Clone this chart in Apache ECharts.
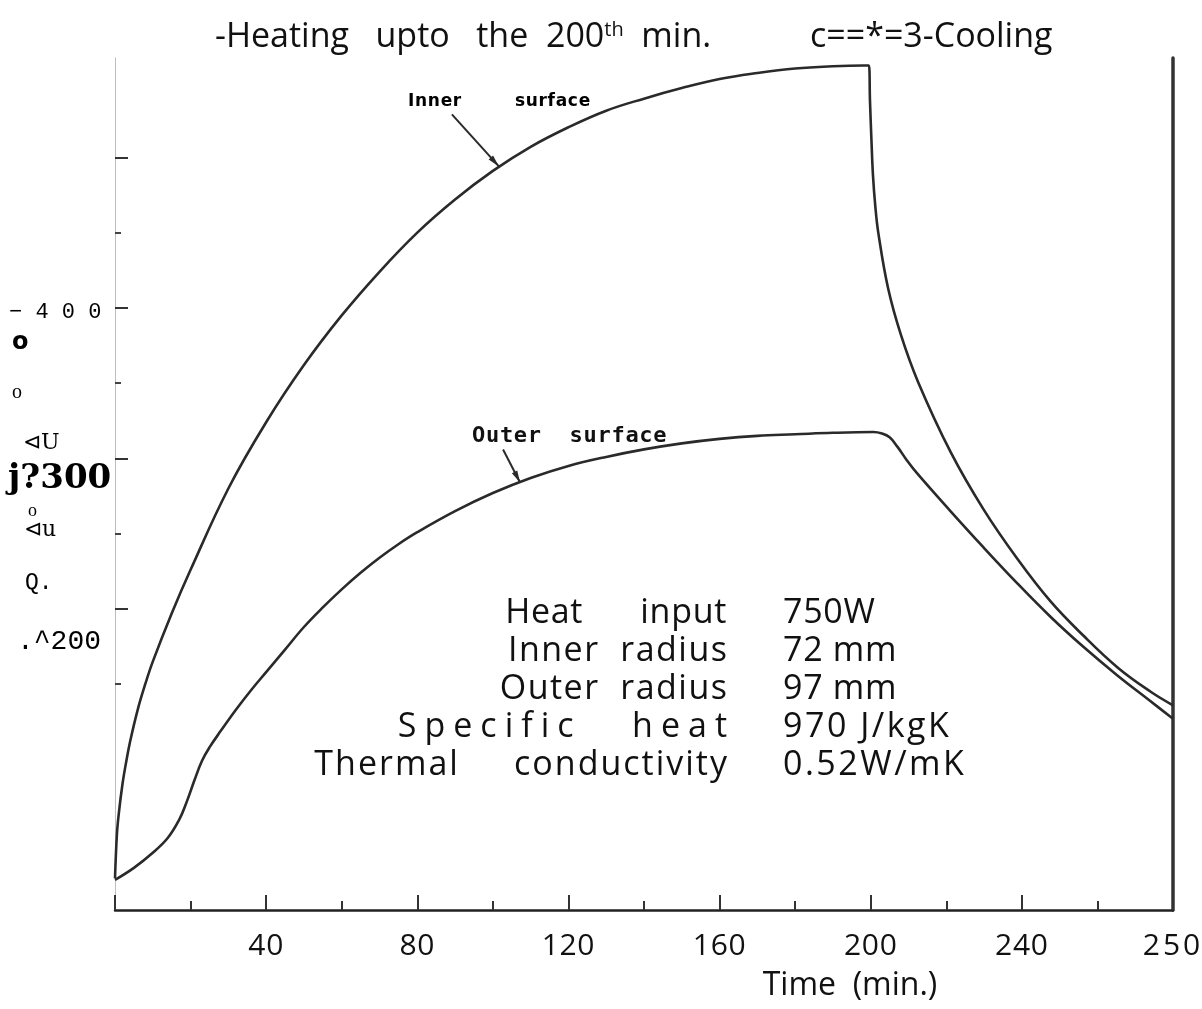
<!DOCTYPE html>
<html>
<head>
<meta charset="utf-8">
<script src="https://cdn.jsdelivr.net/npm/echarts@6/dist/echarts.min.js"></script>
<style>
  html, body { margin: 0; padding: 0; background: #fff; }
  #chart { width: 1202px; height: 1009px; }
</style>
</head>
<body>
<div id="chart"></div>
<script>
// Temperature (deg C) against time (min): heating up to 200 min, then cooling.
const innerSurface = [
  [0, 21], [0.5, 50], [1, 64], [2, 84], [3, 99], [4, 112], [6, 133], [8, 150],
  [10, 165], [15, 197], [20, 226], [30, 280], [40, 324], [50, 362], [60, 395],
  [70, 424], [80, 450], [90, 472], [100, 491], [110, 507], [120, 520], [130, 531],
  [140, 539], [150, 546], [160, 552], [170, 556], [180, 559], [190, 560.5], [198, 561],
  [199.5, 561], [199.8, 538], [200.2, 511], [200.6, 488], [201.2, 468], [202, 450],
  [204.6, 413], [208, 382], [212.5, 351], [221.2, 304], [229.9, 266], [238.9, 233],
  [247.6, 205], [256.4, 182], [265.4, 161], [274.1, 145], [280, 136]
];
const outerSurface = [
  [0, 20], [5, 28], [10, 38], [14, 48], [17, 60], [19, 72], [21, 86], [23, 99],
  [25, 108], [28, 119], [32, 133], [36, 146], [40, 158], [45, 173], [50, 188],
  [55, 201], [60, 213], [65, 224], [70, 234], [75, 243], [80, 251], [90, 265],
  [100, 277], [110, 287], [120, 295], [130, 301], [140, 306], [150, 310], [160, 313],
  [170, 315], [180, 316], [190, 317], [200.7, 317.5], [203, 316.5], [205, 314],
  [207, 308], [209.5, 299], [212.3, 290], [221.1, 265], [229.8, 241], [238.8, 217],
  [247.5, 195], [256.2, 175], [265.2, 156], [273.9, 139], [280, 127]
];

// Axis ticks and labels
const xTickValues = [40, 80, 120, 160, 200, 240, 280];
const xTickLabels = ['40', '80', '120', '160', '200', '240', '250'];
const yMajorTicks = [200, 300, 400, 500];
const yMinorTicks = [150, 250, 350, 450];
const yLabelValues = [400, 300, 200];
const yLabelTexts = ['\u2212 4 0 0', 'j?300', '.^200'];
const yAxisGlyphs = ['o', 'o', '\u22B2U', 'o', '\u22B2u', 'Q.'];

// Annotation and table texts
const titleHeating = '-Heating   upto   the  200{sup|th}  min.';
const titleCooling = 'c==*=3-Cooling';
const xAxisTitle = 'Time  (min.)';
const curveNames = ['Inner        surface', 'Outer  surface'];
const paramNames = ['Heat      input', 'Inner  radius', 'Outer  radius', 'Specific   heat', 'Thermal     conductivity'];
const paramValues = ['750W', '72 mm', '97 mm', '970 J/kgK', '0.52W/mK'];

// extra tracking (px) for some of the drawn strings
const tracking = {
  'Inner  radius': 1.5, 'Outer  radius': 1.5, 'Specific   heat': 8,
  'Thermal     conductivity': 2, '970 J/kgK': 2.5, '0.52W/mK': 2.5,
  'Inner        surface': 0.7, '250': 3
};
(function () {
  const proto = CanvasRenderingContext2D.prototype;
  const fill = proto.fillText;
  proto.fillText = function (text) {
    const ls = tracking[text];
    if (ls && 'letterSpacing' in this) {
      const prev = this.letterSpacing;
      this.letterSpacing = ls + 'px';
      const r = fill.apply(this, arguments);
      this.letterSpacing = prev;
      return r;
    }
    return fill.apply(this, arguments);
  };
})();

const INK = '#2a2a2a';
const SANS = '"Open Sans", "Noto Sans", sans-serif';

const chart = echarts.init(document.getElementById('chart'), null, { renderer: 'canvas' });

chart.setOption({
  animation: false,
  backgroundColor: '#ffffff',
  grid: { left: 115, right: 29, top: 58, bottom: 99, containLabel: false },
  xAxis: {
    type: 'value', min: 0, max: 280, interval: 40,
    axisLine: { show: true, onZero: false, lineStyle: { color: '#222', width: 2.5 } },
    axisTick: { show: true, inside: true, length: 15, lineStyle: { color: '#333', width: 2 } },
    minorTick: { show: true, splitNumber: 2, length: 9, lineStyle: { color: '#333', width: 2 } },
    splitLine: { show: false },
    minorSplitLine: { show: false },
    axisLabel: {
      customValues: xTickValues,
      formatter: v => xTickLabels[xTickValues.indexOf(v)],
      margin: 21, fontFamily: SANS, fontSize: 30, color: '#111'
    }
  },
  yAxis: [
    {
      type: 'value', min: 0, max: 566, position: 'left',
      axisLine: { show: true, onZero: false, lineStyle: { color: '#bdbdbd', width: 1 } },
      axisTick: { show: true, inside: true, length: 13, customValues: yMajorTicks, lineStyle: { color: '#333', width: 2 } },
      axisLabel: { show: false }, splitLine: { show: false }
    },
    {
      type: 'value', min: 0, max: 566, position: 'left',
      axisLine: { show: false },
      axisTick: { show: true, inside: true, length: 6, customValues: yMinorTicks, lineStyle: { color: '#444', width: 2 } },
      axisLabel: { show: false }, splitLine: { show: false }
    },
    {
      type: 'value', min: 0, max: 566, position: 'right',
      axisLine: { show: true, onZero: false, lineStyle: { color: '#333', width: 3.5 } },
      axisTick: { show: false }, axisLabel: { show: false }, splitLine: { show: false }
    }
  ],
  series: [
    {
      type: 'line', name: 'Inner surface', data: innerSurface, yAxisIndex: 0,
      smooth: 0.4, symbol: 'none', lineStyle: { color: INK, width: 2.6 }, z: 3
    },
    {
      type: 'line', name: 'Outer surface', data: outerSurface, yAxisIndex: 0,
      smooth: 0.4, symbol: 'none', lineStyle: { color: INK, width: 2.6 }, z: 3
    }
  ]
});

const toPx = (t, v) => chart.convertToPixel({ seriesIndex: 0 }, [t, v]);

function txt(x, y, text, font, extra) {
  return {
    type: 'text', x: x, y: y, silent: true,
    style: Object.assign({ text: text, font: font, fill: '#111', textAlign: 'left', textVerticalAlign: 'middle' }, extra || {})
  };
}

// pointer line from a curve label to the curve, with a slim arrowhead at the curve
function pointer(start, end) {
  const dx = end[0] - start[0], dy = end[1] - start[1];
  const len = Math.sqrt(dx * dx + dy * dy);
  const ux = dx / len, uy = dy / len;
  const bx = end[0] - ux * 12, by = end[1] - uy * 12;
  return [
    { type: 'line', silent: true, shape: { x1: start[0], y1: start[1], x2: end[0], y2: end[1] },
      style: { stroke: INK, lineWidth: 2 } },
    { type: 'polygon', silent: true,
      shape: { points: [[end[0], end[1]], [bx - uy * 3, by + ux * 3], [bx + uy * 3, by - ux * 3]] },
      style: { fill: INK } }
  ];
}

const graphics = [];

// title line
graphics.push(txt(215, 37, titleHeating, '34px ' + SANS, {
  rich: { sup: { font: '20px ' + SANS, verticalAlign: 'top', padding: [0, 0, 14, 0] } }
}));
graphics.push(txt(810, 37, titleCooling, '34px ' + SANS));

// x-axis title
graphics.push(txt(850, 986, xAxisTitle, '32px ' + SANS, { textAlign: 'center' }));

// y-axis labels tied to their axis values
const yLabelFonts = ['22px "Liberation Mono", monospace', 'bold 34px "DejaVu Serif", serif', '28px "Liberation Mono", monospace'];
const yLabelOffsets = [4, 21, 33];
const yLabelLefts = [9, 8, 17];
yLabelValues.forEach((v, i) => {
  const p = toPx(0, v);
  graphics.push(txt(yLabelLefts[i], p[1] + yLabelOffsets[i], yLabelTexts[i], yLabelFonts[i], { fill: '#000' }));
});

// stray glyphs of the rotated axis caption
const glyphPos = [[12, 343], [12, 393], [23, 443], [28, 511], [24, 530], [25, 583]];
const glyphFonts = ['bold 24px "DejaVu Sans", sans-serif', '20px "Liberation Serif", serif', '22px "DejaVu Serif", serif',
  '18px "Liberation Serif", serif', '22px "DejaVu Serif", serif', '23px "Liberation Mono", monospace'];
yAxisGlyphs.forEach((g, i) => {
  graphics.push(txt(glyphPos[i][0], glyphPos[i][1], g, glyphFonts[i], { fill: '#000' }));
});

// curve labels with pointers
graphics.push(txt(408, 102, curveNames[0], 'bold 17px "DejaVu Sans", sans-serif', { fill: '#000' }));
const innerEnd = toPx(101.6, 494);
pointer([innerEnd[0] - 47, innerEnd[1] - 52], innerEnd).forEach(g => graphics.push(g));

graphics.push(txt(472, 436, curveNames[1], 'bold 22px "DejaVu Sans Mono", monospace', { fill: '#111' }));
const outerEnd = toPx(107.2, 284);
pointer([outerEnd[0] - 17, outerEnd[1] - 33], outerEnd).forEach(g => graphics.push(g));

// parameter table
paramNames.forEach((name, i) => {
  const y = 613 + i * 38;
  const ls = tracking[name] || 0;
  graphics.push(txt(727 + ls, y, name, '34px ' + SANS, { textAlign: 'right' }));
  graphics.push(txt(783, y, paramValues[i], '34px ' + SANS));
});

chart.setOption({ graphic: { elements: graphics } });
</script>
</body>
</html>
